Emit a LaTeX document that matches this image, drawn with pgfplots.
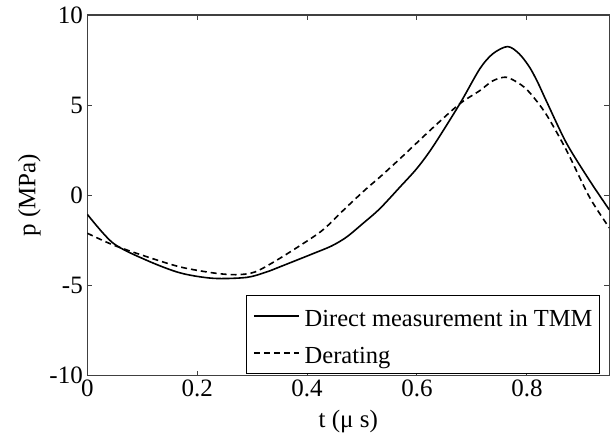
\documentclass[border=0pt]{standalone}
\usepackage{fontspec}
\setmainfont{Liberation Serif}
\usepackage{pgfplots}
\pgfplotsset{compat=1.18}

\begin{document}
\begin{tikzpicture}
  \begin{axis}[
    scale only axis,
    width=522pt,
    height=360.7pt,
    xmin=0,xmax=0.95,
    ymin=-10,ymax=10,
    xtick={0,0.2,0.4,0.6,0.8},
    ytick={-10,-5,0,5,10},
    xticklabels={0,0.2,0.4,0.6,0.8},
    yticklabels={-10,-5,0,5,10},
    tick align=inside,
    major tick length=5pt,
    tick style={black!75,line width=1pt},
    axis line style={black!75,line width=1.3pt},
    tick label style={font=\fontsize{25}{30}\selectfont},
    xticklabel style={yshift=-1pt},
    yticklabel style={xshift=-1pt},
    label style={font=\fontsize{25}{30}\selectfont},
    xlabel={t (μ s)},
    ylabel={p (MPa)},
    xlabel style={yshift=-6pt},
    ylabel style={yshift=2pt},
    legend style={at={(rel axis cs:1,0)},anchor=south east,
      xshift=-9.3pt,yshift=1.5pt,
      font=\fontsize{24.5}{27}\selectfont,
      draw=black,line width=1pt,
      inner xsep=7pt,inner ysep=4pt,
      nodes={inner sep=0pt,text height=27pt,text depth=6pt},
      row sep=4pt,column sep=5pt},
    legend cell align=left,
    legend image code/.code={\draw[#1] (0pt,0pt) -- (45pt,0pt);},
  ]
    \addplot[black,line width=1.6pt,smooth] coordinates {
      (0,-1.05) (0.047,-2.65) (0.108,-3.6) (0.169,-4.3) (0.229,-4.6)
      (0.29,-4.55) (0.326,-4.25) (0.35,-3.97) (0.411,-3.23) (0.445,-2.8)
      (0.472,-2.31) (0.5,-1.6) (0.532,-0.75) (0.569,0.46) (0.6,1.5)
      (0.629,2.7) (0.678,5.08) (0.714,7.0) (0.738,7.85) (0.765,8.25)
      (0.786,7.85) (0.805,7.1) (0.82,6.25) (0.835,5.26) (0.872,2.9)
      (0.914,0.83) (0.95,-0.8)};
    \addlegendentry{Direct measurement in TMM}
    \addplot[black,line width=1.6pt,dash pattern=on 6pt off 4pt,smooth] coordinates {
      (0,-2.1) (0.047,-2.75) (0.108,-3.4) (0.169,-3.97) (0.229,-4.3)
      (0.27,-4.4) (0.305,-4.25) (0.35,-3.5) (0.411,-2.31) (0.435,-1.75)
      (0.472,-0.65) (0.508,0.37) (0.532,1.0) (0.569,2.03) (0.629,3.75)
      (0.678,5.08) (0.714,5.8) (0.738,6.35) (0.762,6.55) (0.786,6.2)
      (0.805,5.7) (0.835,4.5) (0.872,2.5) (0.914,-0.1) (0.95,-1.8)};
    \addlegendentry{Derating}
  \end{axis}
  \path (current axis.south west) ++(-87.3pt,-63.3pt) rectangle ++(613pt,439pt);
\end{tikzpicture}
\end{document}
